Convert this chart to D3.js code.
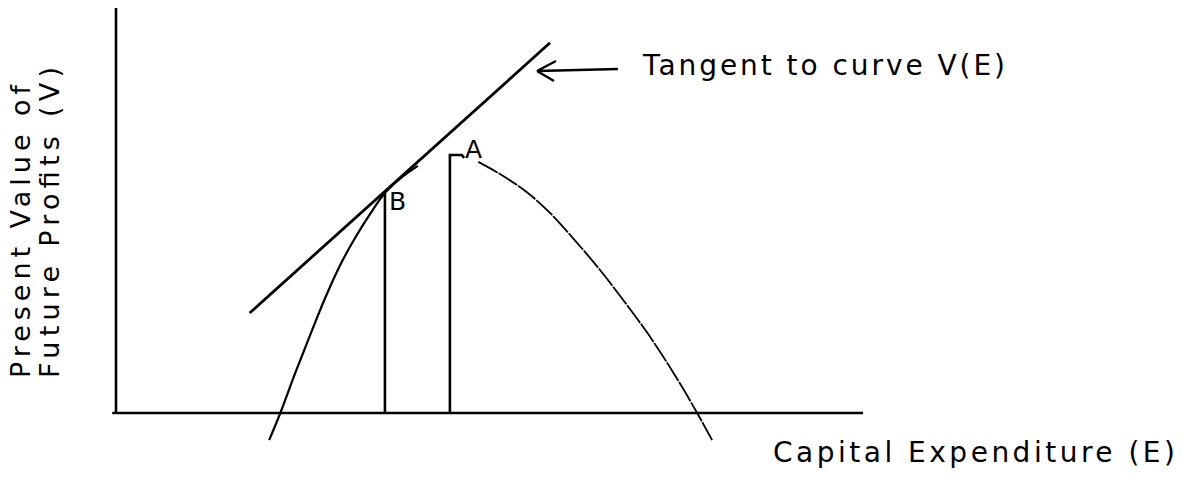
<!DOCTYPE html>
<html>
<head>
<meta charset="utf-8">
<script src="https://cdn.jsdelivr.net/npm/d3@7"></script>
<style>
  body { margin: 0; background: #fff; }
  svg { display: block; }
  text { font-family: "DejaVu Sans", sans-serif; fill: #000; }
</style>
</head>
<body>
<script>
// curve V(E), in chart units (E across, V up)
var leftArc = [[20.5, -6.7], [22.0, 0], [24.0, 9.9], [26.0, 19.3], [28.0, 28.4], [30.0, 36.5],
               [32.0, 43.2], [34.0, 49.1], [36.0, 54.3], [38.0, 57.8], [40.4, 61.0]];
var rightArc = [[48.5, 62.0], [51.4, 59.0], [54.8, 54.8], [58.1, 49.4], [61.4, 42.7], [64.8, 35.3],
                [68.1, 27.4], [71.5, 18.8], [74.8, 9.4], [77.8, 0], [79.8, -6.7]];
// tangent line and the two drop lines
var tangent = [[17.9, 24.7], [58.1, 91.4]];
var dropB = [[36.0, 0], [36.0, 54.3]];
var dropA = [[44.7, 0], [44.7, 63.7], [46.3, 63.7], [46.6, 63.0]];
var pointLabels = ["B", "A"];
var yLabel = ["Present Value of", "Future Profits (V)"];
var xLabel = "Capital Expenditure (E)";
var noteLabel = "Tangent to curve V(E)";

function draw() {
    var w = 1182;
    var h = 477;
    var svg = d3.select("body")
        .append("svg")
        .attr("width", w)
        .attr("height", h);

    // E from 0..100 and V from 0..100
    var x = d3.scaleLinear().domain([0, 100]).range([116, 863]);
    var y = d3.scaleLinear().domain([0, 100]).range([413, 8]);

    var line = d3.line()
        .x(function(d) { return x(d[0]); })
        .y(function(d) { return y(d[1]); });
    var smooth = d3.line()
        .x(function(d) { return x(d[0]); })
        .y(function(d) { return y(d[1]); })
        .curve(d3.curveCatmullRom);

    // axes, no ticks
    svg.append("path")
        .attr("d", line([[0, 0], [0, 100]]))
        .attr("stroke", "#000").attr("stroke-width", 2.6).attr("fill", "none");
    svg.append("path")
        .attr("d", line([[-0.5, 0], [100, 0]]))
        .attr("stroke", "#000").attr("stroke-width", 2.6).attr("fill", "none");

    // tangent
    svg.append("path")
        .attr("d", line(tangent))
        .attr("stroke", "#000").attr("stroke-width", 2.8).attr("fill", "none");

    // drop lines at B and A
    svg.append("path")
        .attr("d", line(dropB))
        .attr("stroke", "#000").attr("stroke-width", 2.6).attr("fill", "none");
    svg.append("path")
        .attr("d", line(dropA))
        .attr("stroke", "#000").attr("stroke-width", 2.6).attr("fill", "none");

    // the curve
    svg.append("path")
        .attr("d", smooth(leftArc))
        .attr("stroke", "#000").attr("stroke-width", 2.2).attr("fill", "none");
    svg.append("path")
        .attr("d", smooth(rightArc))
        .attr("stroke", "#000").attr("stroke-width", 1.8).attr("fill", "none")
        .attr("stroke-dasharray", "22,1.2");

    // point labels
    svg.append("text").text(pointLabels[0])
        .attr("x", x(36.0) + 4).attr("y", y(54.3) + 17)
        .style("font-size", "25px");
    svg.append("text").text(pointLabels[1])
        .attr("x", x(46.6) + 1).attr("y", y(63.0))
        .style("font-size", "25px");

    // arrow to the tangent
    svg.append("path")
        .attr("d", "M537,71 L618,69 M537,71 L556,61 M537,71 L554,81")
        .attr("stroke", "#000").attr("stroke-width", 2.4).attr("fill", "none");
    svg.append("text").text(noteLabel)
        .attr("x", 643).attr("y", 75)
        .attr("textLength", 362).attr("lengthAdjust", "spacing")
        .style("font-size", "28px");

    // axis titles
    svg.append("text").text(xLabel)
        .attr("x", 773).attr("y", 462)
        .attr("textLength", 402).attr("lengthAdjust", "spacing")
        .style("font-size", "28px");
    var lens = [293, 311];
    var bx = [30, 59];
    yLabel.forEach(function(t, i) {
        svg.append("text").text(t)
            .attr("transform", "translate(" + bx[i] + ",378) rotate(-90)")
            .attr("textLength", lens[i]).attr("lengthAdjust", "spacing")
            .style("font-size", "27px");
    });
}
window.onload = draw;
</script>
</body>
</html>
